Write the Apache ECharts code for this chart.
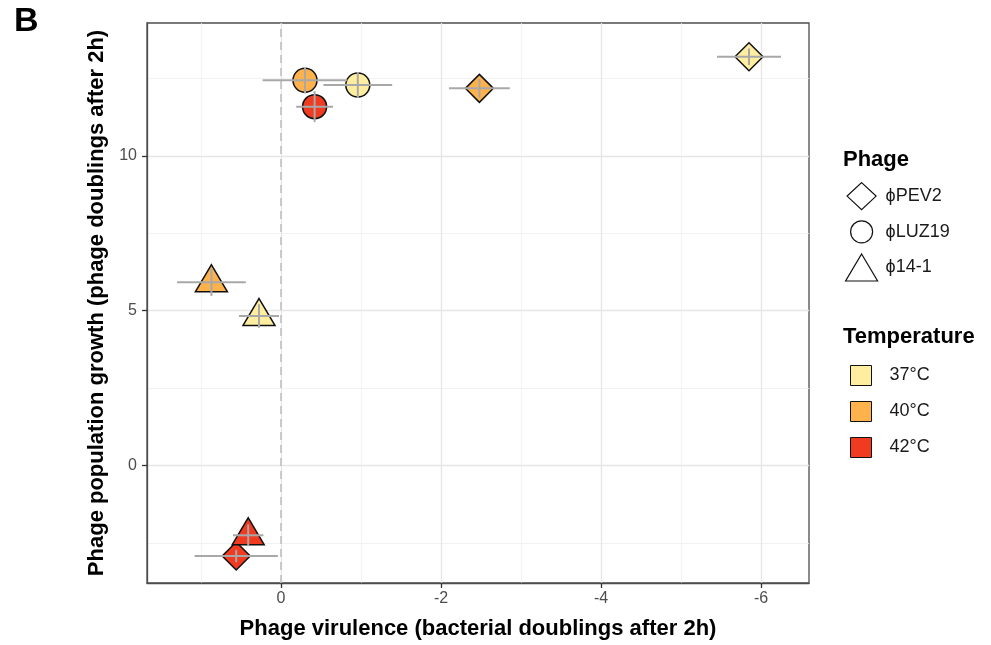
<!DOCTYPE html>
<html>
<head>
<meta charset="utf-8">
<script src="https://cdn.jsdelivr.net/npm/echarts@6/dist/echarts.min.js"></script>
<style>
  html, body { margin: 0; padding: 0; background: #fff; }
  #chart { width: 991px; height: 645px; }
</style>
</head>
<body>
<div id="chart"></div>
<script>
// Phage and temperature groups
const phageNames = ['ϕPEV2', 'ϕLUZ19', 'ϕ14-1'];
const tempNames = ['37°C', '40°C', '42°C'];

// One entry per phage × temperature combination
const pointPhage = ['ϕPEV2', 'ϕPEV2', 'ϕPEV2', 'ϕLUZ19', 'ϕLUZ19', 'ϕLUZ19', 'ϕ14-1', 'ϕ14-1', 'ϕ14-1'];
const pointTemp = ['37°C', '40°C', '42°C', '37°C', '40°C', '42°C', '37°C', '40°C', '42°C'];
const virulence = [-5.85, -2.48, 0.56, -0.96, -0.30, -0.42, 0.275, 0.87, 0.41];
const virulenceErr = [0.40, 0.38, 0.52, 0.43, 0.53, 0.23, 0.25, 0.43, 0.19];
const growth = [13.2, 12.18, -2.92, 12.29, 12.44, 11.59, 4.83, 5.92, -2.25];
const growthErr = [0.27, 0.30, 0.20, 0.42, 0.43, 0.50, 0.38, 0.44, 0.35];

// Axis ticks and grid lines
const xTicks = [0, -2, -4, -6];
const xMinor = [1, -1, -3, -5];
const yTicks = [0, 5, 10];
const yMinor = [-2.5, 2.5, 7.5, 12.5];

// Styling
const tempPalette = { '37°C': '#FFEDA0', '40°C': '#FEB24C', '42°C': '#F03B20' };
const phageSymbol = { 'ϕPEV2': 'diamond', 'ϕLUZ19': 'circle', 'ϕ14-1': 'triangle' };
const phageSize = { 'ϕPEV2': 28, 'ϕLUZ19': 24, 'ϕ14-1': [32, 27] };
const phageOffset = { 'ϕPEV2': [0, 0], 'ϕLUZ19': [0, 0], 'ϕ14-1': [0, -4] };
// Legend key outlines, drawn in a 32×27 box
const phageKey = {
  'ϕPEV2': 'path://M0,0M32,27M16,0L30.5,13.5L16,27L1.5,13.5Z',
  'ϕLUZ19': 'path://M0,0M32,27M27,13.5A11,11,0,1,1,5,13.5A11,11,0,1,1,27,13.5Z',
  'ϕ14-1': 'triangle'
};
const FONT = '"Liberation Sans", Arial, sans-serif';

const chart = echarts.init(document.getElementById('chart'), null, { renderer: 'canvas' });

const pointSeries = phageNames.map(function (ph) {
  const data = [];
  pointPhage.forEach(function (p, i) {
    if (p !== ph) return;
    data.push({
      value: [virulence[i], growth[i]],
      itemStyle: { color: tempPalette[pointTemp[i]] }
    });
  });
  return {
    name: ph,
    type: 'scatter',
    xAxisIndex: 0,
    yAxisIndex: 0,
    symbol: phageSymbol[ph],
    symbolSize: phageSize[ph],
    symbolOffset: phageOffset[ph],
    itemStyle: { borderColor: '#111', borderWidth: 1.5, opacity: 1 },
    emphasis: { disabled: true },
    z: 3,
    data: data
  };
});

const tempSeries = tempNames.map(function (t) {
  return {
    name: t,
    type: 'scatter',
    symbol: 'rect',
    itemStyle: { color: tempPalette[t], opacity: 1 },
    data: []
  };
});

const errData = virulence.map(function (v, i) {
  return [v, growth[i], virulenceErr[i], growthErr[i]];
});

const errorSeries = {
  name: 'errors',
  type: 'custom',
  xAxisIndex: 0,
  yAxisIndex: 0,
  z: 5,
  silent: true,
  encode: { x: 0, y: 1 },
  data: errData,
  renderItem: function (params, api) {
    const x = api.value(0), y = api.value(1), ex = api.value(2), ey = api.value(3);
    const l = api.coord([x - ex, y]);
    const r = api.coord([x + ex, y]);
    const t = api.coord([x, y + ey]);
    const b = api.coord([x, y - ey]);
    const st = { stroke: '#a8a8a8', lineWidth: 2 };
    return {
      type: 'group',
      children: [
        { type: 'line', shape: { x1: l[0], y1: l[1], x2: r[0], y2: r[1] }, style: st },
        { type: 'line', shape: { x1: t[0], y1: t[1], x2: b[0], y2: b[1] }, style: st }
      ]
    };
  },
  markLine: {
    silent: true,
    symbol: 'none',
    label: { show: false },
    z: 1,
    lineStyle: { type: [8, 5], color: '#bdbdbd', width: 1.5 },
    data: [{ xAxis: 0 }]
  }
};

const axisCommonX = {
  type: 'value',
  inverse: true,
  min: -6.6,
  max: 1.675,
  gridIndex: 0
};
const axisCommonY = {
  type: 'value',
  min: -3.79,
  max: 14.29,
  gridIndex: 0
};

const option = {
  backgroundColor: '#fff',
  animation: false,
  title: [
    { text: 'B', left: 14, top: 5, padding: 0, textStyle: { fontFamily: FONT, fontSize: 34, fontWeight: 'bold', color: '#000' } },
    { text: 'Phage', left: 843, top: 149, padding: 0, textStyle: { fontFamily: FONT, fontSize: 22, fontWeight: 'bold', color: '#000' } },
    { text: 'Temperature', left: 843, top: 326, padding: 0, textStyle: { fontFamily: FONT, fontSize: 22, fontWeight: 'bold', color: '#000' } }
  ],
  grid: {
    left: 147, top: 23, right: 182, bottom: 58,
    show: true,
    borderColor: '#4d4d4d',
    borderWidth: 1.3,
    backgroundColor: '#fff'
  },
  legend: [
    {
      data: phageNames.map(function (p) {
        return { name: p, icon: phageKey[p], itemStyle: { color: '#fff', borderColor: '#111', borderWidth: 1.2, opacity: 1 } };
      }),
      orient: 'vertical',
      left: 845,
      top: 182,
      padding: 0,
      itemWidth: 32,
      itemHeight: 27,
      itemGap: 7.5,
      symbolKeepAspect: false,
      selectedMode: false,
      textStyle: { fontFamily: FONT, fontSize: 18, color: '#1a1a1a', padding: [0, 0, 0, 3] }
    },
    {
      data: tempNames.map(function (t) {
        return { name: t, icon: 'rect', itemStyle: { color: tempPalette[t], borderColor: '#111', borderWidth: 1, opacity: 1 } };
      }),
      orient: 'vertical',
      left: 850,
      top: 365,
      padding: 0,
      itemWidth: 21,
      itemHeight: 20,
      itemGap: 15,
      selectedMode: false,
      textStyle: { fontFamily: FONT, fontSize: 18, color: '#1a1a1a', padding: [0, 0, 0, 13] }
    }
  ],
  xAxis: [
    Object.assign({}, axisCommonX, {
      position: 'bottom',
      name: 'Phage virulence (bacterial doublings after 2h)',
      nameLocation: 'middle',
      nameGap: 35,
      nameTextStyle: { fontFamily: FONT, fontSize: 22, fontWeight: 'bold', color: '#000' },
      axisLine: { show: true, onZero: false, lineStyle: { color: '#4d4d4d', width: 1.3 } },
      axisTick: { show: true, customValues: xTicks, length: 5, lineStyle: { color: '#333', width: 1.3 } },
      axisLabel: { customValues: xTicks, fontFamily: FONT, fontSize: 16, color: '#4d4d4d', margin: 8 },
      splitLine: { show: true, lineStyle: { color: '#e5e5e5', width: 1.3 } }
    }),
    Object.assign({}, axisCommonX, {
      position: 'top',
      axisLine: { show: false, onZero: false },
      axisTick: { show: false, customValues: xMinor },
      axisLabel: { show: false },
      splitLine: { show: true, lineStyle: { color: '#efefef', width: 0.8 } }
    })
  ],
  yAxis: [
    Object.assign({}, axisCommonY, {
      position: 'left',
      name: 'Phage population growth (phage doublings after 2h)',
      nameLocation: 'middle',
      nameGap: 30,
      nameTextStyle: { fontFamily: FONT, fontSize: 22, fontWeight: 'bold', color: '#000' },
      axisLine: { show: true, onZero: false, lineStyle: { color: '#4d4d4d', width: 1.3 } },
      axisTick: { show: true, customValues: yTicks, length: 5, lineStyle: { color: '#333', width: 1.3 } },
      axisLabel: { customValues: yTicks, fontFamily: FONT, fontSize: 16, color: '#4d4d4d', margin: 10 },
      splitLine: { show: true, lineStyle: { color: '#e5e5e5', width: 1.3 } }
    }),
    Object.assign({}, axisCommonY, {
      position: 'right',
      axisLine: { show: false, onZero: false },
      axisTick: { show: false, customValues: yMinor },
      axisLabel: { show: false },
      splitLine: { show: true, lineStyle: { color: '#efefef', width: 0.8 } }
    })
  ],
  series: [errorSeries].concat(pointSeries, tempSeries)
};

chart.setOption(option);
</script>
</body>
</html>
